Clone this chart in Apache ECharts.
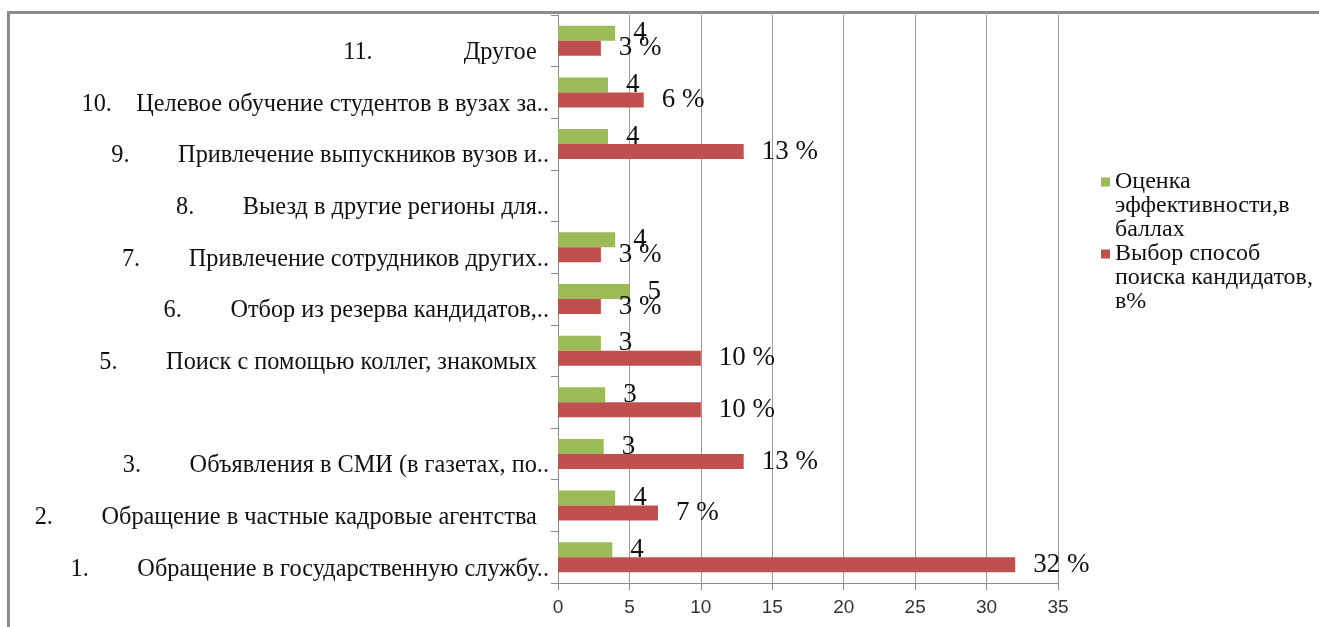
<!DOCTYPE html>
<html>
<head>
<meta charset="utf-8">
<script src="https://cdn.jsdelivr.net/npm/echarts@6/dist/echarts.min.js"></script>
<style>
  html, body { margin: 0; padding: 0; background: #ffffff; }
  #chart { width: 1319px; height: 627px; }
</style>
</head>
<body>
<div id="chart"></div>
<script>
// Recruitment channels, listed bottom (1) to top (11)
const categories = [
  "1.        Обращение в государственную службу..",
  "2.        Обращение в частные кадровые агентства  ",
  "3.        Объявления в СМИ (в газетах, по..",
  "",
  "5.        Поиск с помощью коллег, знакомых  ",
  "6.        Отбор из резерва кандидатов,..",
  "7.        Привлечение сотрудников других..",
  "8.        Выезд в другие регионы для..",
  "9.        Привлечение выпускников вузов и..",
  "10.    Целевое обучение студентов в вузах за..",
  "11.               Другое  "
];

// Effectiveness score, points
const scoreValues = [3.8, 4.0, 3.2, 3.3, 3.0, 5.0, 4.0, null, 3.5, 3.5, 4.0];
// Share of respondents choosing the channel, %
const choiceValues = [32, 7, 13, 10, 10, 3, 3, null, 13, 6, 3];

const seriesNames = [
  "Оценка\nэффективности,в\nбаллах",
  "Выбор способ\nпоиска кандидатов,\nв%"
];

const xTicks = { min: 0, max: 35, interval: 5 };

const serif = "'Liberation Serif', 'Times New Roman', serif";

const chart = echarts.init(document.getElementById('chart'), null, { renderer: 'canvas' });

const labelStyle = {
  show: true,
  position: 'right',
  distance: 18,
  fontFamily: serif,
  fontSize: 27,
  color: '#111'
};

chart.setOption({
  animation: false,
  backgroundColor: '#ffffff',
  grid: { left: 558, right: 261, top: 15, bottom: 44, containLabel: false },
  legend: {
    orient: 'vertical',
    left: 1101,
    top: 122,
    padding: 0,
    itemWidth: 9,
    itemHeight: 9,
    itemGap: -48,
    icon: 'rect',
    data: seriesNames.slice(),
    // two blank lines above the name keep the swatch beside the first line
    formatter: name => '\n\n' + name,
    textStyle: {
      fontFamily: serif,
      fontSize: 24,
      lineHeight: 24,
      color: '#111'
    }
  },
  xAxis: {
    type: 'value',
    min: xTicks.min,
    max: xTicks.max,
    interval: xTicks.interval,
    axisLine: { show: true, lineStyle: { color: '#8a8a8a', width: 1 } },
    axisTick: { show: true, length: 7, lineStyle: { color: '#8a8a8a' } },
    axisLabel: {
      margin: 15,
      fontFamily: "'Liberation Sans', Arial, sans-serif",
      fontSize: 19,
      color: '#333'
    },
    splitLine: { show: true, lineStyle: { color: '#9a9a9a', width: 1 } }
  },
  yAxis: {
    type: 'category',
    data: categories,
    axisLine: { show: true, lineStyle: { color: '#8a8a8a', width: 1 } },
    axisTick: { show: true, length: 7, lineStyle: { color: '#8a8a8a' } },
    axisLabel: {
      margin: 9,
      fontFamily: serif,
      fontSize: 24.3,
      lineHeight: 24,
      color: '#111',
      // a leading blank line drops each name just below its band centre
      formatter: v => (v ? '\n' + v : '')
    }
  },
  series: [
    {
      name: seriesNames[0],
      type: 'bar',
      data: scoreValues,
      barWidth: 15,
      barGap: '0%',
      itemStyle: { color: '#9BBB59' },
      label: Object.assign({}, labelStyle, {
        formatter: p => (p.value == null ? '' : String(Math.round(p.value)))
      })
    },
    {
      name: seriesNames[1],
      type: 'bar',
      data: choiceValues,
      barWidth: 15,
      barGap: '0%',
      itemStyle: { color: '#C0504D' },
      label: Object.assign({}, labelStyle, {
        formatter: p => (p.value == null ? '' : p.value + ' %')
      })
    }
  ],
  graphic: [
    {
      type: 'rect',
      silent: true,
      z: -10,
      shape: { x: 8.5, y: 12.5, width: 1400, height: 700 },
      style: { fill: 'none', stroke: '#8c8c8c', lineWidth: 3 }
    }
  ]
});
</script>
</body>
</html>
